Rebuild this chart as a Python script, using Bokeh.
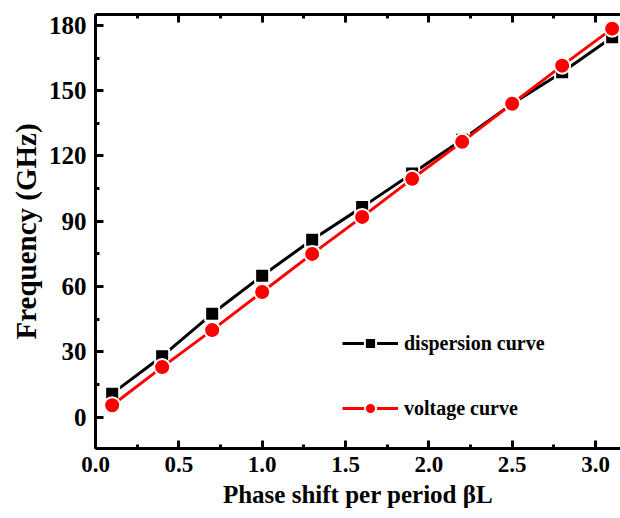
from bokeh.plotting import figure
from bokeh.models import (LinearAxis, SingleIntervalTicker, NumeralTickFormatter,
                          Legend, LegendItem, Range1d)
from bokeh.embed import file_html
from bokeh.resources import INLINE

phase = [0.1, 0.4, 0.7, 1.0, 1.3, 1.6, 1.9, 2.2, 2.5, 2.8, 3.1]
dispersion = [10.8, 28.0, 47.5, 65.0, 81.5, 96.5, 112.0, 127.5, 144.0, 158.5, 174.5]
voltage = [5.5, 23.0, 40.0, 57.5, 75.0, 92.0, 109.5, 126.5, 144.0, 161.5, 178.5]

FONT = "Liberation Serif"

p = figure(width=620, height=518, output_backend="svg", toolbar_location=None,
           x_range=Range1d(0, 3.15), y_range=Range1d(-14.4, 185),
           min_border_left=95, min_border_right=0, min_border_top=14, min_border_bottom=70,
           x_axis_location=None, y_axis_location=None)
p.outline_line_color = None
p.grid.visible = False
p.background_fill_color = "white"
p.border_fill_color = "white"

def style_axis(ax, size="24px", label_size="28px", labels=True):
    ax.axis_line_width = 3
    ax.axis_line_color = "black"
    ax.major_tick_in = 8
    ax.major_tick_out = 0
    ax.minor_tick_in = 4
    ax.minor_tick_out = 0
    ax.major_tick_line_width = 3
    ax.minor_tick_line_width = 3
    ax.major_label_text_font = FONT
    ax.major_label_text_font_style = "bold"
    ax.major_label_text_font_size = size
    ax.major_label_text_color = "black"
    ax.major_label_standoff = 9
    ax.axis_label_text_font = FONT
    ax.axis_label_text_font_style = "bold"
    ax.axis_label_text_font_size = label_size
    ax.axis_label_text_color = "black"
    ax.axis_label_standoff = 4
    if not labels:
        ax.major_label_text_font_size = "0px"
        ax.major_label_text_alpha = 0

xb = LinearAxis(ticker=SingleIntervalTicker(interval=0.5, num_minor_ticks=2),
                formatter=NumeralTickFormatter(format="0.0"),
                axis_label="Phase shift per period βL")
style_axis(xb, size="23px", label_size="25px")
xb.major_label_standoff = 8
xb.axis_label_standoff = 6
p.add_layout(xb, "below")

xt = LinearAxis(ticker=SingleIntervalTicker(interval=0.5, num_minor_ticks=2))
style_axis(xt, labels=False)
p.add_layout(xt, "above")

yl = LinearAxis(ticker=SingleIntervalTicker(interval=30, num_minor_ticks=2),
                axis_label="Frequency (GHz)")
style_axis(yl, size="25px", label_size="29px")
p.add_layout(yl, "left")

l1 = p.line(phase, dispersion, line_color="black", line_width=3)
s1 = p.scatter(phase, dispersion, marker="square", size=14, fill_color="black",
               line_color="white", line_width=2)
l2 = p.line(phase, voltage, line_color="#ff0000", line_width=3)
s2 = p.scatter(phase, voltage, marker="circle", size=16, fill_color="#ff0000",
               line_color="white", line_width=2)

legend = Legend(items=[LegendItem(label="dispersion curve", renderers=[l1, s1]),
                       LegendItem(label="voltage curve", renderers=[l2, s2])],
                location=(247, 26), orientation="vertical",
                glyph_width=56, glyph_height=28, label_height=28,
                spacing=37, padding=0, margin=0, label_standoff=6,
                border_line_color=None, background_fill_alpha=0,
                label_text_font=FONT, label_text_font_style="bold",
                label_text_font_size="20px", label_text_color="black")
p.add_layout(legend, "center")

open("out.html", "w").write(file_html(p, INLINE))
